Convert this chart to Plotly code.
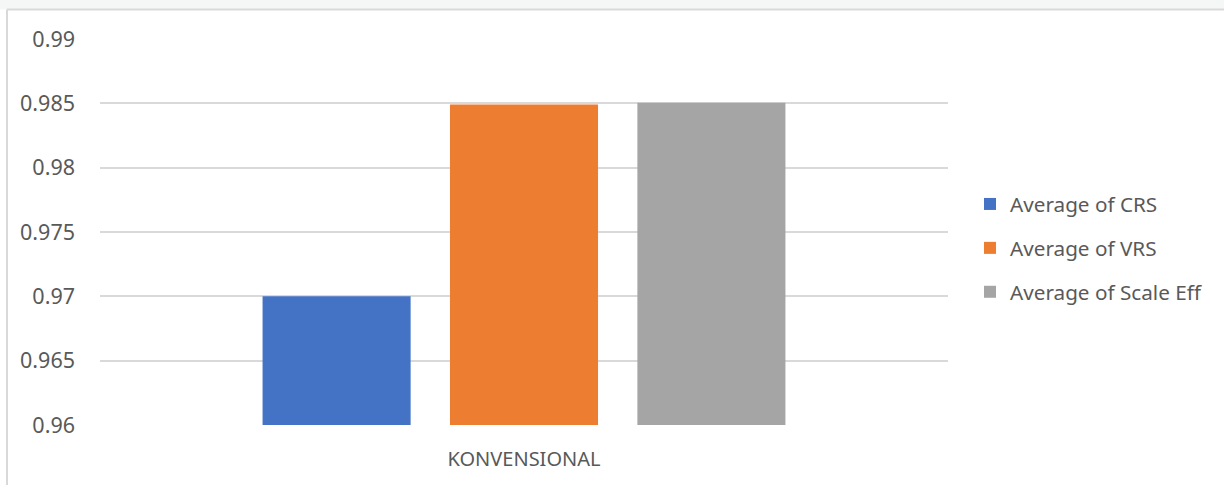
import plotly.graph_objects as go

categories = ["KONVENSIONAL"]
series_names = ["Average of CRS", "Average of VRS", "Average of Scale Eff"]
crs = [0.97]
vrs = [0.9849]
scale_eff = [0.98505]
colors = ["#4472C4", "#ED7D31", "#A5A5A5"]
y_ticks = [0.96, 0.965, 0.97, 0.975, 0.98, 0.985, 0.99]
y_tick_labels = ["0.96", "0.965", "0.97", "0.975", "0.98", "0.985", "0.99"]

fig = go.Figure()
for name, vals, col in zip(series_names, [crs, vrs, scale_eff], colors):
    fig.add_trace(go.Bar(x=categories, y=vals, name=name, marker=dict(color=col, line=dict(width=0)),
                         legendgroup=name))

font_family = "Noto Sans, Open Sans, sans-serif"
L, R, T, B = 100, 276, 39, 60
W, H = 1224, 485
pw, ph = W - L - R, H - T - B

def px_x(p):
    return (p - L) / pw

def px_y(p):
    return (H - B - p) / ph

fig.update_layout(
    width=W, height=H,
    margin=dict(l=L, r=R, t=T, b=B, pad=0),
    paper_bgcolor="white", plot_bgcolor="white",
    barmode="group", bargap=0.337, bargroupgap=0.21,
    font=dict(family=font_family, color="#595959", size=20),
    showlegend=True,
    legend=dict(x=px_x(970), y=px_y(184), xanchor="left", yanchor="top",
                font=dict(size=20.7, color="#595959"), traceorder="grouped",
                tracegroupgap=14, itemwidth=30, bgcolor="rgba(0,0,0,0)"),
    xaxis=dict(showgrid=False, showline=False, ticks="", tickfont=dict(size=20, color="#595959"),
               ticklabelstandoff=20),
    yaxis=dict(range=[0.96, 0.99], tickvals=y_ticks, ticktext=y_tick_labels,
               showgrid=True, gridcolor="#d9d9d9", gridwidth=1.5, zeroline=False,
               showline=False, ticks="", tickfont=dict(size=21.5, color="#595959"),
               ticklabelstandoff=24),
    shapes=[
        dict(type="rect", xref="paper", yref="paper", x0=px_x(-5), x1=px_x(1230), y0=px_y(0), y1=px_y(9.5),
             fillcolor="#f5f7f6", line=dict(width=0), layer="below"),
        dict(type="line", xref="paper", yref="paper", x0=px_x(7), x1=px_x(1230), y0=px_y(9.5), y1=px_y(9.5),
             line=dict(color="#d9d9d9", width=2)),
        dict(type="line", xref="paper", yref="paper", x0=px_x(7), x1=px_x(7), y0=px_y(9.5), y1=px_y(490),
             line=dict(color="#d9d9d9", width=2)),
    ],
)
fig.write_html("out.html")
